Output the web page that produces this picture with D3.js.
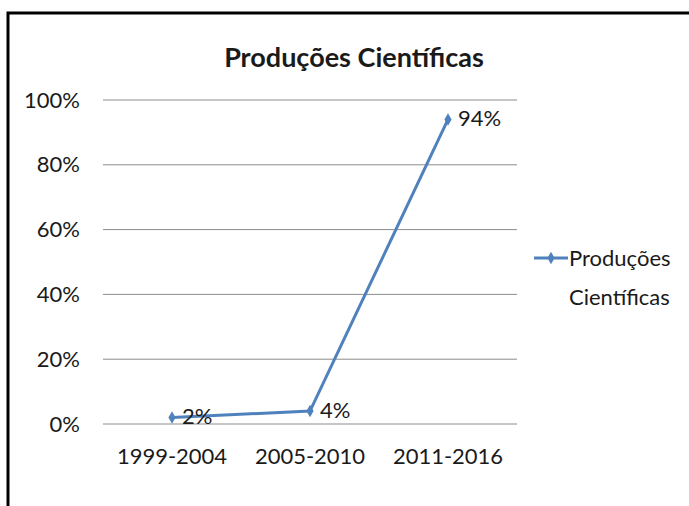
<!DOCTYPE html>
<html>
<head>
<meta charset="utf-8">
<script src="https://cdn.jsdelivr.net/npm/d3@7"></script>
<style>
  body { margin: 0; background: #fff; }
  text { font-family: Lato, "Open Sans", sans-serif; fill: #1a1a1a; }
</style>
</head>
<body>
<div id="chart"></div>
<script>
// data
const periods = ["1999-2004", "2005-2010", "2011-2016"];
const values = [2, 4, 94];
const yTicks = [0, 20, 40, 60, 80, 100];
const seriesName = "Produções Científicas";

const W = 689, H = 506;
const margin = { top: 100, right: 172, bottom: 82, left: 103 };
const width = W - margin.left - margin.right;
const height = H - margin.top - margin.bottom;

const fs = "22px";

const root = d3.select("#chart")
    .append("svg")
    .attr("width", W)
    .attr("height", H);

// outer frame (cut off at right/bottom like the screenshot)
root.append("rect")
    .attr("x", 8)
    .attr("y", 13)
    .attr("width", W)
    .attr("height", H)
    .attr("fill", "none")
    .attr("stroke", "#000")
    .attr("stroke-width", 3);

root.append("text")
    .attr("x", 354)
    .attr("y", 67)
    .attr("text-anchor", "middle")
    .style("font-size", "27px")
    .style("font-weight", "bold")
    .text(seriesName);

const svg = root.append("g")
    .attr("transform", `translate(${margin.left},${margin.top})`);

const x = d3.scaleBand()
    .domain(periods)
    .range([0, width]);

const y = d3.scaleLinear()
    .domain([0, 100])
    .range([height, 0]);

// gridlines
svg.selectAll(".grid")
    .data(yTicks)
    .enter()
    .append("line")
    .attr("class", "grid")
    .attr("x1", 0)
    .attr("x2", width)
    .attr("y1", d => y(d))
    .attr("y2", d => y(d))
    .attr("stroke", "#8c8c8c")
    .attr("stroke-width", 1);

// y axis labels
const yAxis = svg.append("g")
    .call(d3.axisLeft(y).tickValues(yTicks).tickSize(0).tickPadding(23).tickFormat(d => d + "%"));
yAxis.select(".domain").remove();
yAxis.selectAll("text")
    .style("font-size", fs)
    .style("font-family", "Lato, sans-serif")
    .attr("fill", "#1a1a1a");

// x axis labels
const xAxis = svg.append("g")
    .attr("transform", `translate(0,${height})`)
    .call(d3.axisBottom(x).tickSize(0).tickPadding(24));
xAxis.select(".domain").remove();
xAxis.selectAll("text")
    .style("font-size", fs)
    .style("font-family", "Lato, sans-serif")
    .attr("fill", "#1a1a1a");

const color = "#4f81bd";
const cx = d => x(d) + x.bandwidth() / 2;

const line = d3.line()
    .x((d, i) => cx(periods[i]))
    .y(d => y(d));

svg.append("path")
    .datum(values)
    .attr("fill", "none")
    .attr("stroke", color)
    .attr("stroke-width", 3)
    .attr("d", line);

const diamond = d3.symbol().type(d3.symbolDiamond).size(45);

svg.selectAll(".pt")
    .data(values)
    .enter()
    .append("path")
    .attr("class", "pt")
    .attr("d", diamond)
    .attr("transform", (d, i) => `translate(${cx(periods[i])},${y(d)})`)
    .attr("fill", color);

svg.selectAll(".lbl")
    .data(values)
    .enter()
    .append("text")
    .attr("class", "lbl")
    .attr("x", (d, i) => cx(periods[i]) + 10)
    .attr("y", d => y(d))
    .attr("dy", "0.3em")
    .style("font-size", fs)
    .text(d => d + "%");

// legend
const lg = root.append("g").attr("transform", "translate(534,258)");
lg.append("line")
    .attr("x1", 0).attr("x2", 34)
    .attr("stroke", color).attr("stroke-width", 3);
lg.append("path")
    .attr("d", diamond)
    .attr("transform", "translate(17,0)")
    .attr("fill", color);
lg.append("text")
    .attr("x", 35)
    .attr("dy", "0.35em")
    .style("font-size", fs)
    .text("Produções");
lg.append("text")
    .attr("x", 35)
    .attr("y", 39)
    .attr("dy", "0.35em")
    .style("font-size", fs)
    .text("Científicas");
</script>
</body>
</html>
